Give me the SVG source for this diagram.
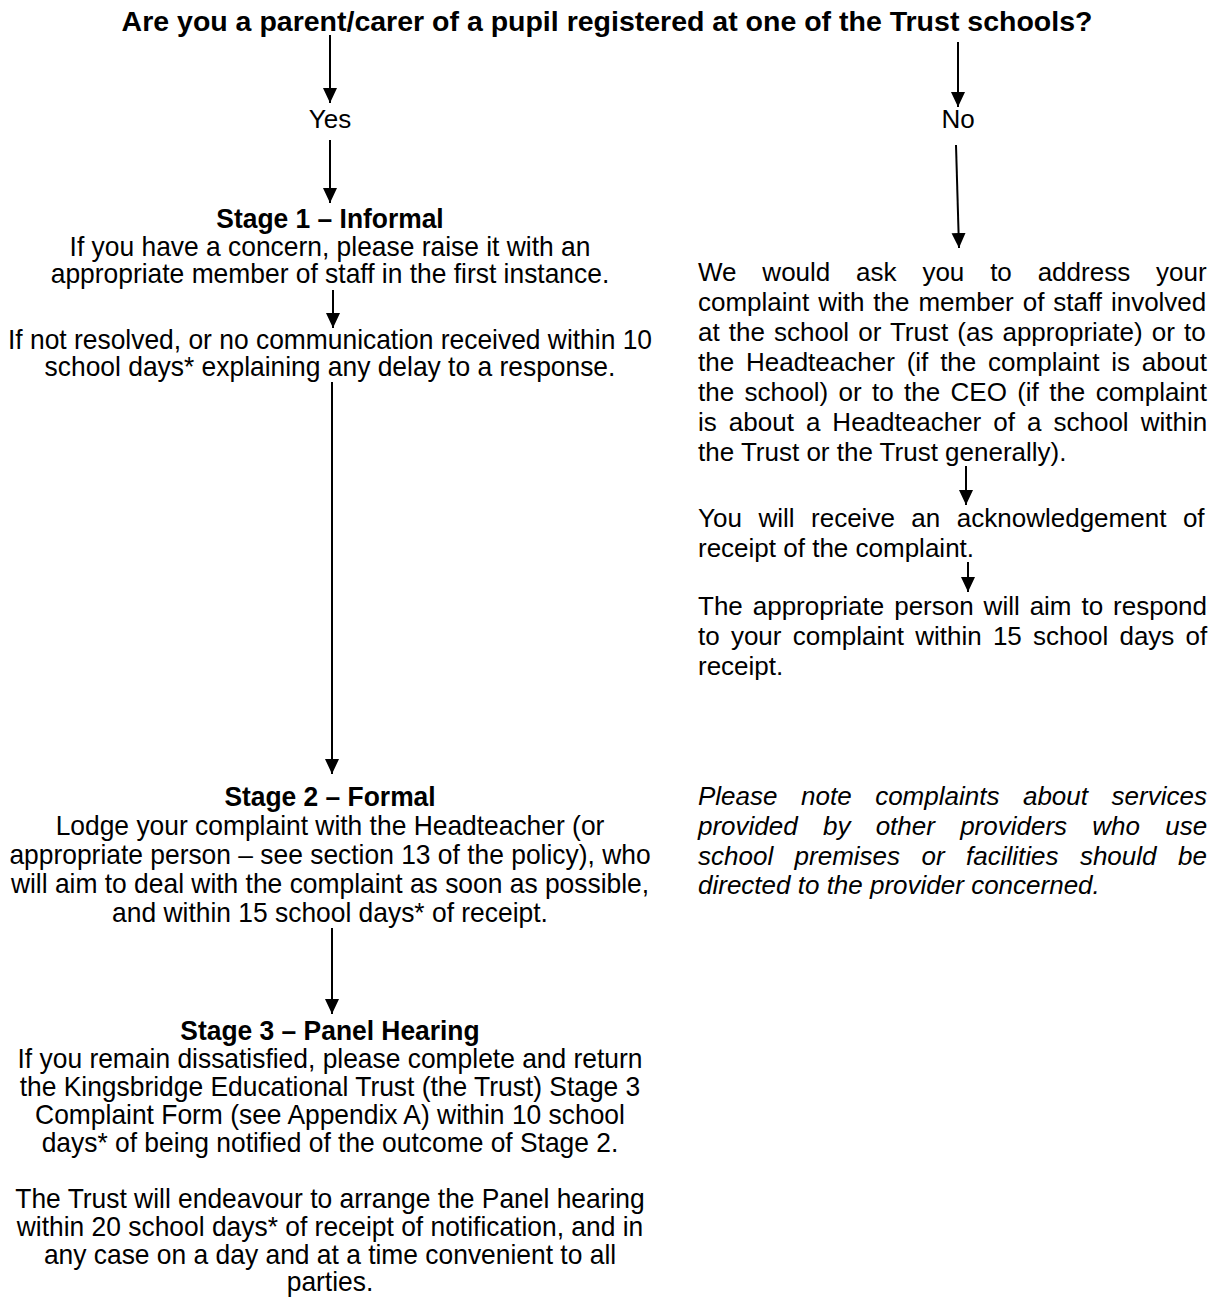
<svg xmlns="http://www.w3.org/2000/svg" width="1215" height="1297" viewBox="0 0 1215 1297">
<style>
text{font-family:"Liberation Sans",Arial,sans-serif;fill:#000}
.q{font-size:28.5px;font-weight:bold}
.yn{font-size:26px}
.l{font-size:28px;text-anchor:middle}
.lb{font-size:28px;text-anchor:middle;font-weight:bold}
.r{font-size:26px}
.ri{font-size:26px;font-style:italic}
.c{stroke:#000;stroke-width:2;fill:none}
</style>
<defs>
<marker id="ah" markerUnits="userSpaceOnUse" markerWidth="16" markerHeight="16" viewBox="0 0 16 16" refX="15" refY="8" orient="auto">
<path d="M0,1 L15,8 L0,15 Z" fill="#000"/>
</marker>
</defs>
<rect width="1215" height="1297" fill="#fff"/>
<g id="question"><text class="q" x="607" y="31" text-anchor="middle">Are you a parent/carer of a pupil registered at one of the Trust schools?</text></g>
<g id="yes"><text class="yn" x="330" y="128" text-anchor="middle">Yes</text></g>
<g id="no"><text class="yn" x="958" y="128" text-anchor="middle">No</text></g>
<g transform="translate(330,0) scale(0.943,1)">
<g id="stage1">
<text class="lb" x="0" y="228">Stage 1 – Informal</text>
<text class="l" x="0" y="256">If you have a concern, please raise it with an</text>
<text class="l" x="0" y="283">appropriate member of staff in the first instance.</text>
</g>
<g id="notresolved">
<text class="l" x="0" y="349">If not resolved, or no communication received within 10</text>
<text class="l" x="0" y="376">school days* explaining any delay to a response.</text>
</g>
<g id="stage2">
<text class="lb" x="0" y="806">Stage 2 – Formal</text>
<text class="l" x="0" y="835">Lodge your complaint with the Headteacher (or</text>
<text class="l" x="0" y="864">appropriate person – see section 13 of the policy), who</text>
<text class="l" x="0" y="893">will aim to deal with the complaint as soon as possible,</text>
<text class="l" x="0" y="922">and within 15 school days* of receipt.</text>
</g>
<g id="stage3">
<text class="lb" x="0" y="1040">Stage 3 – Panel Hearing</text>
<text class="l" x="0" y="1068">If you remain dissatisfied, please complete and return</text>
<text class="l" x="0" y="1096">the Kingsbridge Educational Trust (the Trust) Stage 3</text>
<text class="l" x="0" y="1124">Complaint Form (see Appendix A) within 10 school</text>
<text class="l" x="0" y="1152">days* of being notified of the outcome of Stage 2.</text>
<text class="l" x="0" y="1208">The Trust will endeavour to arrange the Panel hearing</text>
<text class="l" x="0" y="1236">within 20 school days* of receipt of notification, and in</text>
<text class="l" x="0" y="1264">any case on a day and at a time convenient to all</text>
<text class="l" x="0" y="1291">parties.</text>
</g>
</g>
<g id="address">
<text class="r" x="698" y="281" word-spacing="18.6">We would ask you to address your</text>
<text class="r" x="698" y="311" word-spacing="1.7">complaint with the member of staff involved</text>
<text class="r" x="698" y="341" word-spacing="1.85">at the school or Trust (as appropriate) or to</text>
<text class="r" x="698" y="371" word-spacing="4.6">the Headteacher (if the complaint is about</text>
<text class="r" x="698" y="401" word-spacing="3.1">the school) or to the CEO (if the complaint</text>
<text class="r" x="698" y="431" word-spacing="4.8">is about a Headteacher of a school within</text>
<text class="r" x="698" y="461">the Trust or the Trust generally).</text>
</g>
<g id="acknowledge">
<text class="r" x="698" y="527" word-spacing="9.3">You will receive an acknowledgement of</text>
<text class="r" x="698" y="557">receipt of the complaint.</text>
</g>
<g id="respond">
<text class="r" x="698" y="615" word-spacing="2.7">The appropriate person will aim to respond</text>
<text class="r" x="698" y="645" word-spacing="4">to your complaint within 15 school days of</text>
<text class="r" x="698" y="675">receipt.</text>
</g>
<g id="note">
<text class="ri" x="698" y="805" word-spacing="16.3">Please note complaints about services</text>
<text class="ri" x="698" y="835" word-spacing="18">provided by other providers who use</text>
<text class="ri" x="698" y="865" word-spacing="14.2">school premises or facilities should be</text>
<text class="ri" x="698" y="894">directed to the provider concerned.</text>
</g>
<g id="connectors">
<path class="c" d="M330,35 L330,103" marker-end="url(#ah)"/>
<path class="c" d="M330,140 L330,203" marker-end="url(#ah)"/>
<path class="c" d="M958,42 L958,107" marker-end="url(#ah)"/>
<path class="c" d="M956,145 L959,248" marker-end="url(#ah)"/>
<path class="c" d="M333,290 L333,328" marker-end="url(#ah)"/>
<path class="c" d="M332,382 L332,774" marker-end="url(#ah)"/>
<path class="c" d="M332,928 L332,1014" marker-end="url(#ah)"/>
<path class="c" d="M966,466 L966,505" marker-end="url(#ah)"/>
<path class="c" d="M968,562 L968,592" marker-end="url(#ah)"/>
</g>
</svg>
